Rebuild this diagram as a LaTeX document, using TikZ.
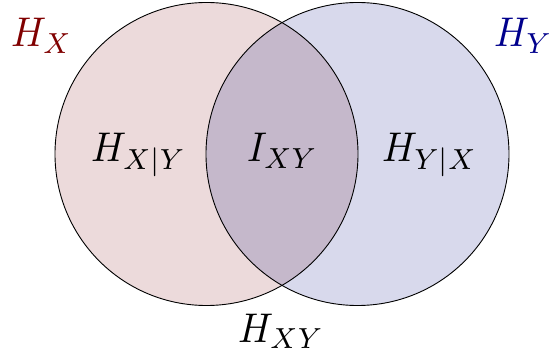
\documentclass[tikz,border=0pt]{standalone}
\usepackage{graphicx}
\usepackage{tikz}
\definecolor{lfill}{RGB}{236,218,219}
\definecolor{rfill}{RGB}{216,217,236}
\definecolor{ifill}{RGB}{197,184,203}
\definecolor{hxcol}{RGB}{128,0,0}
\definecolor{hycol}{RGB}{0,0,140}
\newcommand{\biglbl}[1]{\scalebox{3.85}[4.15]{$#1$}}
\tikzset{
  lbl/.style={inner sep=0pt, anchor=base west},
  ring/.style={draw=black, line width=0.9pt},
}
\begin{document}
\begin{tikzpicture}[x=1pt,y=1pt]
\useasboundingbox (0,0) rectangle (549,359);
\coordinate (cl) at (206.5,205);
\coordinate (cr) at (357.5,205);
\fill[lfill] (cl) circle (151.5);
\fill[rfill] (cr) circle (151.5);
\begin{scope}
  \clip (cl) circle (151.5);
  \fill[ifill] (cr) circle (151.5);
\end{scope}
\draw[ring] (cl) circle (151.5);
\draw[ring] (cr) circle (151.5);
\node[lbl, text=hxcol] (hx) at (11,312) {\biglbl{H_X}};
\node[lbl, text=hycol] (hy) at (494,312) {\biglbl{H_Y}};
\node[lbl] (hxy) at (91,197) {\biglbl{H_{X|Y}}};
\node[lbl] (ixy) at (247,197) {\biglbl{I_{XY}}};
\node[lbl] (hyx) at (382,197) {\biglbl{H_{Y|X}}};
\node[lbl] (hj) at (238,17) {\biglbl{H_{XY}}};
\end{tikzpicture}
\end{document}
